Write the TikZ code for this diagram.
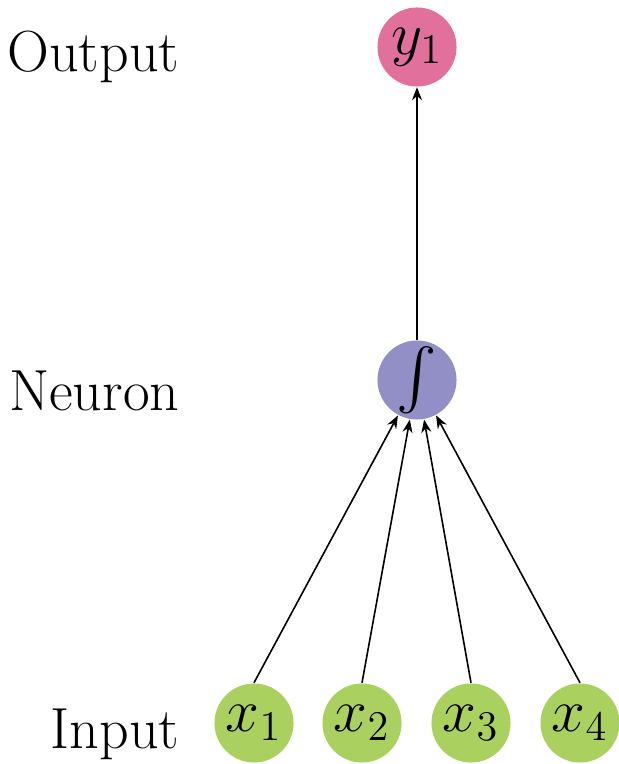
\documentclass[tikz,border=0pt]{standalone}
\usepackage{xcolor}
\usepackage{amsmath}
\usetikzlibrary{arrows.meta, positioning}
\definecolor{outpink}{RGB}{226,112,156}
\definecolor{neuronpurple}{RGB}{145,143,197}
\definecolor{inputgreen}{RGB}{170,209,96}
\definecolor{mydark}{RGB}{0,0,0}
\tikzset{
  unit/.style={circle, minimum size=0.79cm, inner sep=0pt,
    font=\fontsize{16.5}{19}\selectfont},
  outunit/.style={unit, fill=outpink},
  neuunit/.style={unit, fill=neuronpurple},
  inunit/.style={unit, fill=inputgreen},
  layerlabel/.style={anchor=base east, inner sep=0pt,
    font=\fontsize{16.5}{19}\selectfont},
  arrow/.style={-{Stealth[length=1.3mm, width=1mm]}, line width=0.16mm, color=mydark}
}
\begin{document}
\begin{tikzpicture}[x=0.01cm, y=-0.01cm]
  \useasboundingbox (0,0) rectangle (618,764);

  \node[outunit] (y1) at (417,47) {$y_1$};
  \node[neuunit] (neuron) at (417,380) {$\int$};
  \node[inunit] (x1) at (254,723) {$x_1$};
  \node[inunit] (x2) at (362,723) {$x_2$};
  \node[inunit] (x3) at (471,723) {$x_3$};
  \node[inunit] (x4) at (580,723) {$x_4$};

  \node[layerlabel] (outlbl) at (180,72) {Output};
  \node[layerlabel] (neulbl) at (180,410) {Neuron};
  \node[layerlabel] (inlbl) at (180,748) {Input};

  \foreach \i in {1,...,4}
    \draw[arrow] (x\i.north) -- (neuron);
  \draw[arrow] (neuron) -- (y1);
\end{tikzpicture}
\end{document}
